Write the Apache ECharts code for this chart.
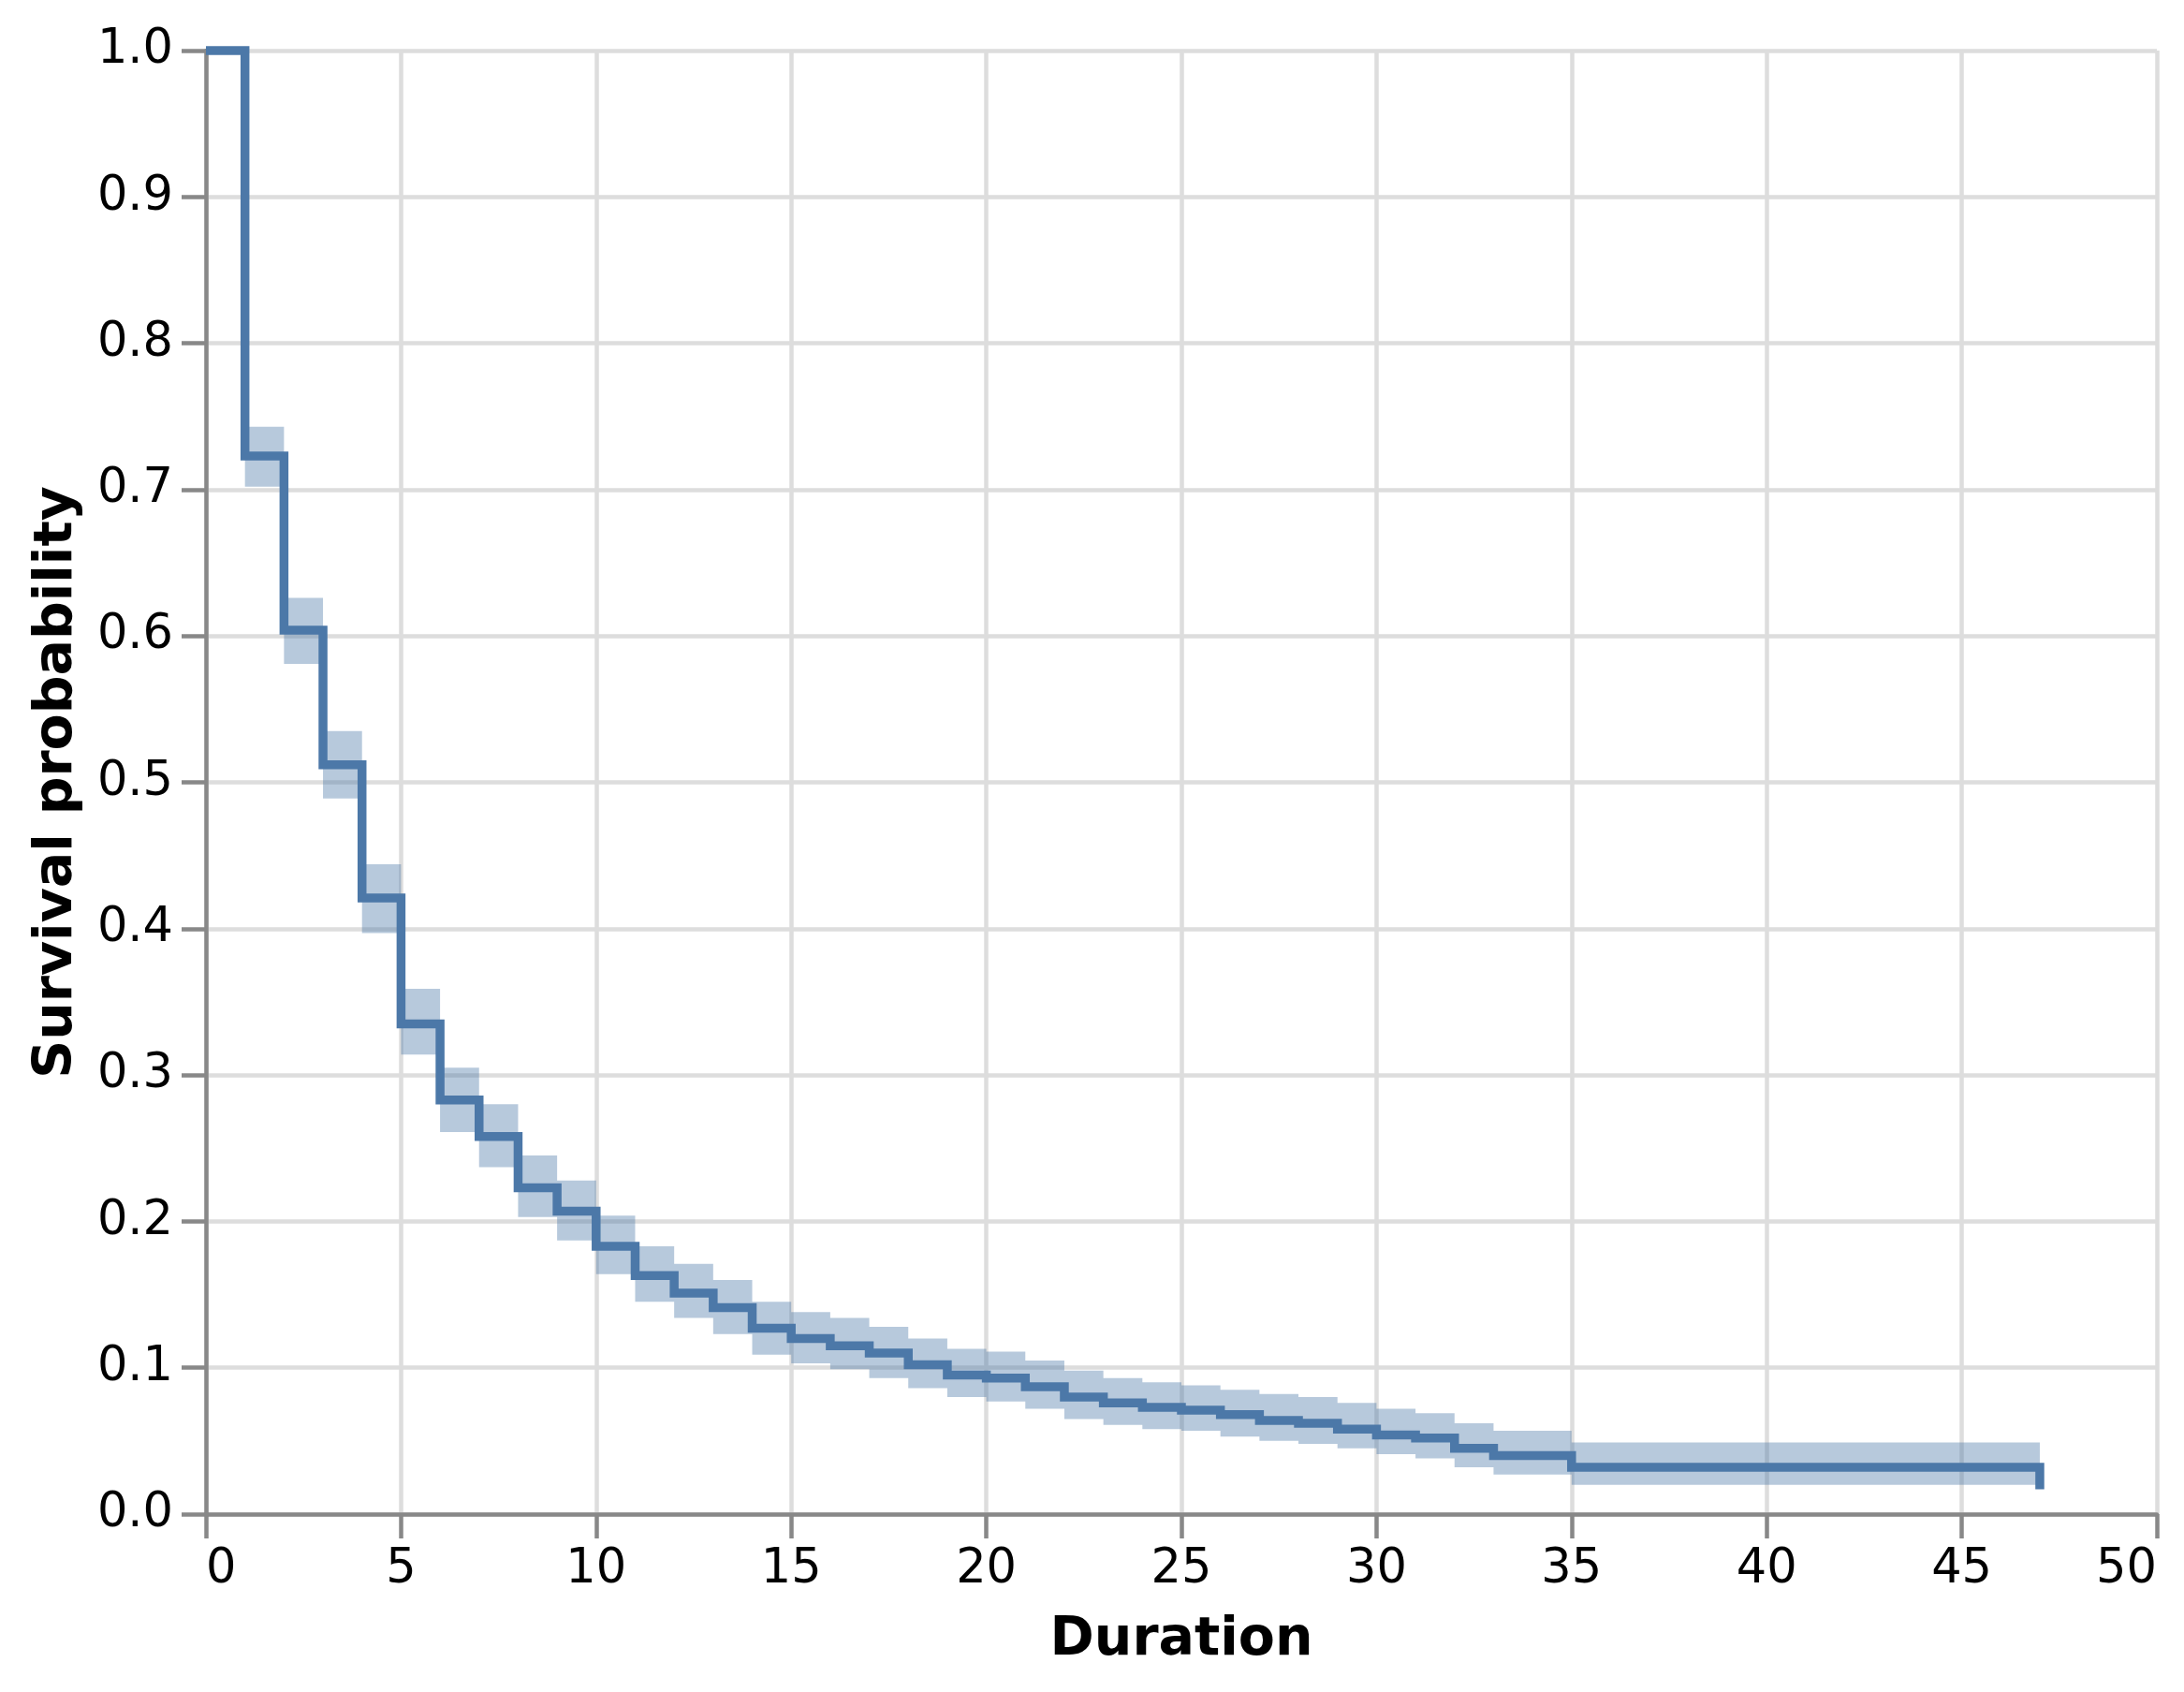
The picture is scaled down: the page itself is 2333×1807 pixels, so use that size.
<!DOCTYPE html>
<html>
<head>
<meta charset="utf-8">
<script src="https://cdn.jsdelivr.net/npm/echarts@6/dist/echarts.min.js"></script>
<style>
  html, body { margin: 0; padding: 0; background: #fff; }
  #chart { width: 2333px; height: 1807px; }
</style>
</head>
<body>
<div id="chart"></div>
<script>
// Kaplan-Meier estimate
const durations = [0, 1, 2, 3, 4, 5, 6, 7, 8, 9, 10, 11, 12, 13, 14, 15, 16, 17, 18, 19,
  20, 21, 22, 23, 24, 25, 26, 27, 28, 29, 30, 31, 32, 33, 35, 47];
const survival = [1.0, 0.723, 0.604, 0.512, 0.421, 0.335, 0.283, 0.258, 0.223, 0.207,
  0.183, 0.163, 0.151, 0.141, 0.127, 0.120, 0.115, 0.110, 0.102, 0.095,
  0.093, 0.087, 0.080, 0.076, 0.073, 0.071, 0.068, 0.064, 0.062, 0.058,
  0.054, 0.052, 0.045, 0.040, 0.032, 0.017];
const ciLower = [1.0, 0.702, 0.581, 0.489, 0.397, 0.314, 0.261, 0.237, 0.203, 0.187,
  0.164, 0.145, 0.134, 0.123, 0.109, 0.103, 0.099, 0.093, 0.086, 0.080,
  0.077, 0.072, 0.065, 0.061, 0.058, 0.057, 0.053, 0.050, 0.048, 0.045,
  0.041, 0.038, 0.032, 0.027, 0.020, 0.007];
const ciUpper = [1.0, 0.743, 0.626, 0.535, 0.444, 0.359, 0.305, 0.280, 0.245, 0.228,
  0.204, 0.183, 0.171, 0.160, 0.145, 0.138, 0.134, 0.128, 0.120, 0.113,
  0.111, 0.105, 0.098, 0.093, 0.090, 0.088, 0.085, 0.082, 0.080, 0.076,
  0.072, 0.069, 0.062, 0.057, 0.049, 0.039];
const xTicks = [0, 50, 5];   // min, max, interval
const yTicks = [0, 1, 0.1];

const mainColor = "#4c78a8";
const font = "DejaVu Sans";

const chart = echarts.init(document.getElementById("chart"), null, { renderer: "canvas" });

const lineData = durations.map((d, i) => [d, survival[i]]);
// one row per step interval: start, end, lower, upper
const bandData = durations.slice(0, -1).map((d, i) => [d, durations[i + 1], ciLower[i], ciUpper[i]]);

// the confidence band as one step-shaped polygon, so the pieces have no seams
function renderBand(params, api) {
  if (params.dataIndex !== 0) return null;
  const top = [];
  const bottom = [];
  bandData.forEach(([x0, x1, lo, hi]) => {
    top.push(api.coord([x0, hi]), api.coord([x1, hi]));
    bottom.push(api.coord([x0, lo]), api.coord([x1, lo]));
  });
  return {
    type: "polygon",
    shape: { points: top.concat(bottom.reverse()) },
    style: { fill: mainColor, opacity: 0.4 },
    silent: true,
  };
}

const axisCommon = {
  type: "value",
  axisLine: { show: true, lineStyle: { color: "#888", width: 4.5 } },
  axisTick: { show: true, length: 26, lineStyle: { color: "#888", width: 4.5 } },
  splitLine: { show: true, lineStyle: { color: "#ddd", width: 4.5 } },
  axisLabel: { color: "#000", fontFamily: font, fontSize: 51 },
  nameTextStyle: { color: "#000", fontFamily: font, fontSize: 57, fontWeight: "bold" },
  nameLocation: "middle",
};

const option = {
  animation: false,
  backgroundColor: "#fff",
  grid: { left: 220, right: 29, top: 54, bottom: 190, containLabel: false },
  xAxis: {
    ...axisCommon,
    min: xTicks[0],
    max: xTicks[1],
    interval: xTicks[2],
    name: "Duration",
    nameGap: 107,
    axisLabel: { ...axisCommon.axisLabel, margin: 34, alignMinLabel: "left", alignMaxLabel: "right" },
  },
  yAxis: {
    ...axisCommon,
    min: yTicks[0],
    max: yTicks[1],
    interval: yTicks[2],
    name: "Survival probability",
    nameGap: 130,
    nameRotate: 90,
    axisLabel: {
      ...axisCommon.axisLabel,
      margin: 35,
      formatter: (v) => v.toFixed(1),
    },
  },
  series: [
    {
      type: "custom",
      data: bandData,
      encode: { x: [0, 1], y: [2, 3] },
      renderItem: renderBand,
      clip: false,
      silent: true,
    },
    {
      type: "line",
      data: lineData,
      step: "end",
      symbol: "none",
      lineStyle: { color: mainColor, width: 9.5, join: "miter", cap: "butt" },
      clip: false,
      z: 5,
    },
  ],
};

chart.setOption(option);
</script>
</body>
</html>
